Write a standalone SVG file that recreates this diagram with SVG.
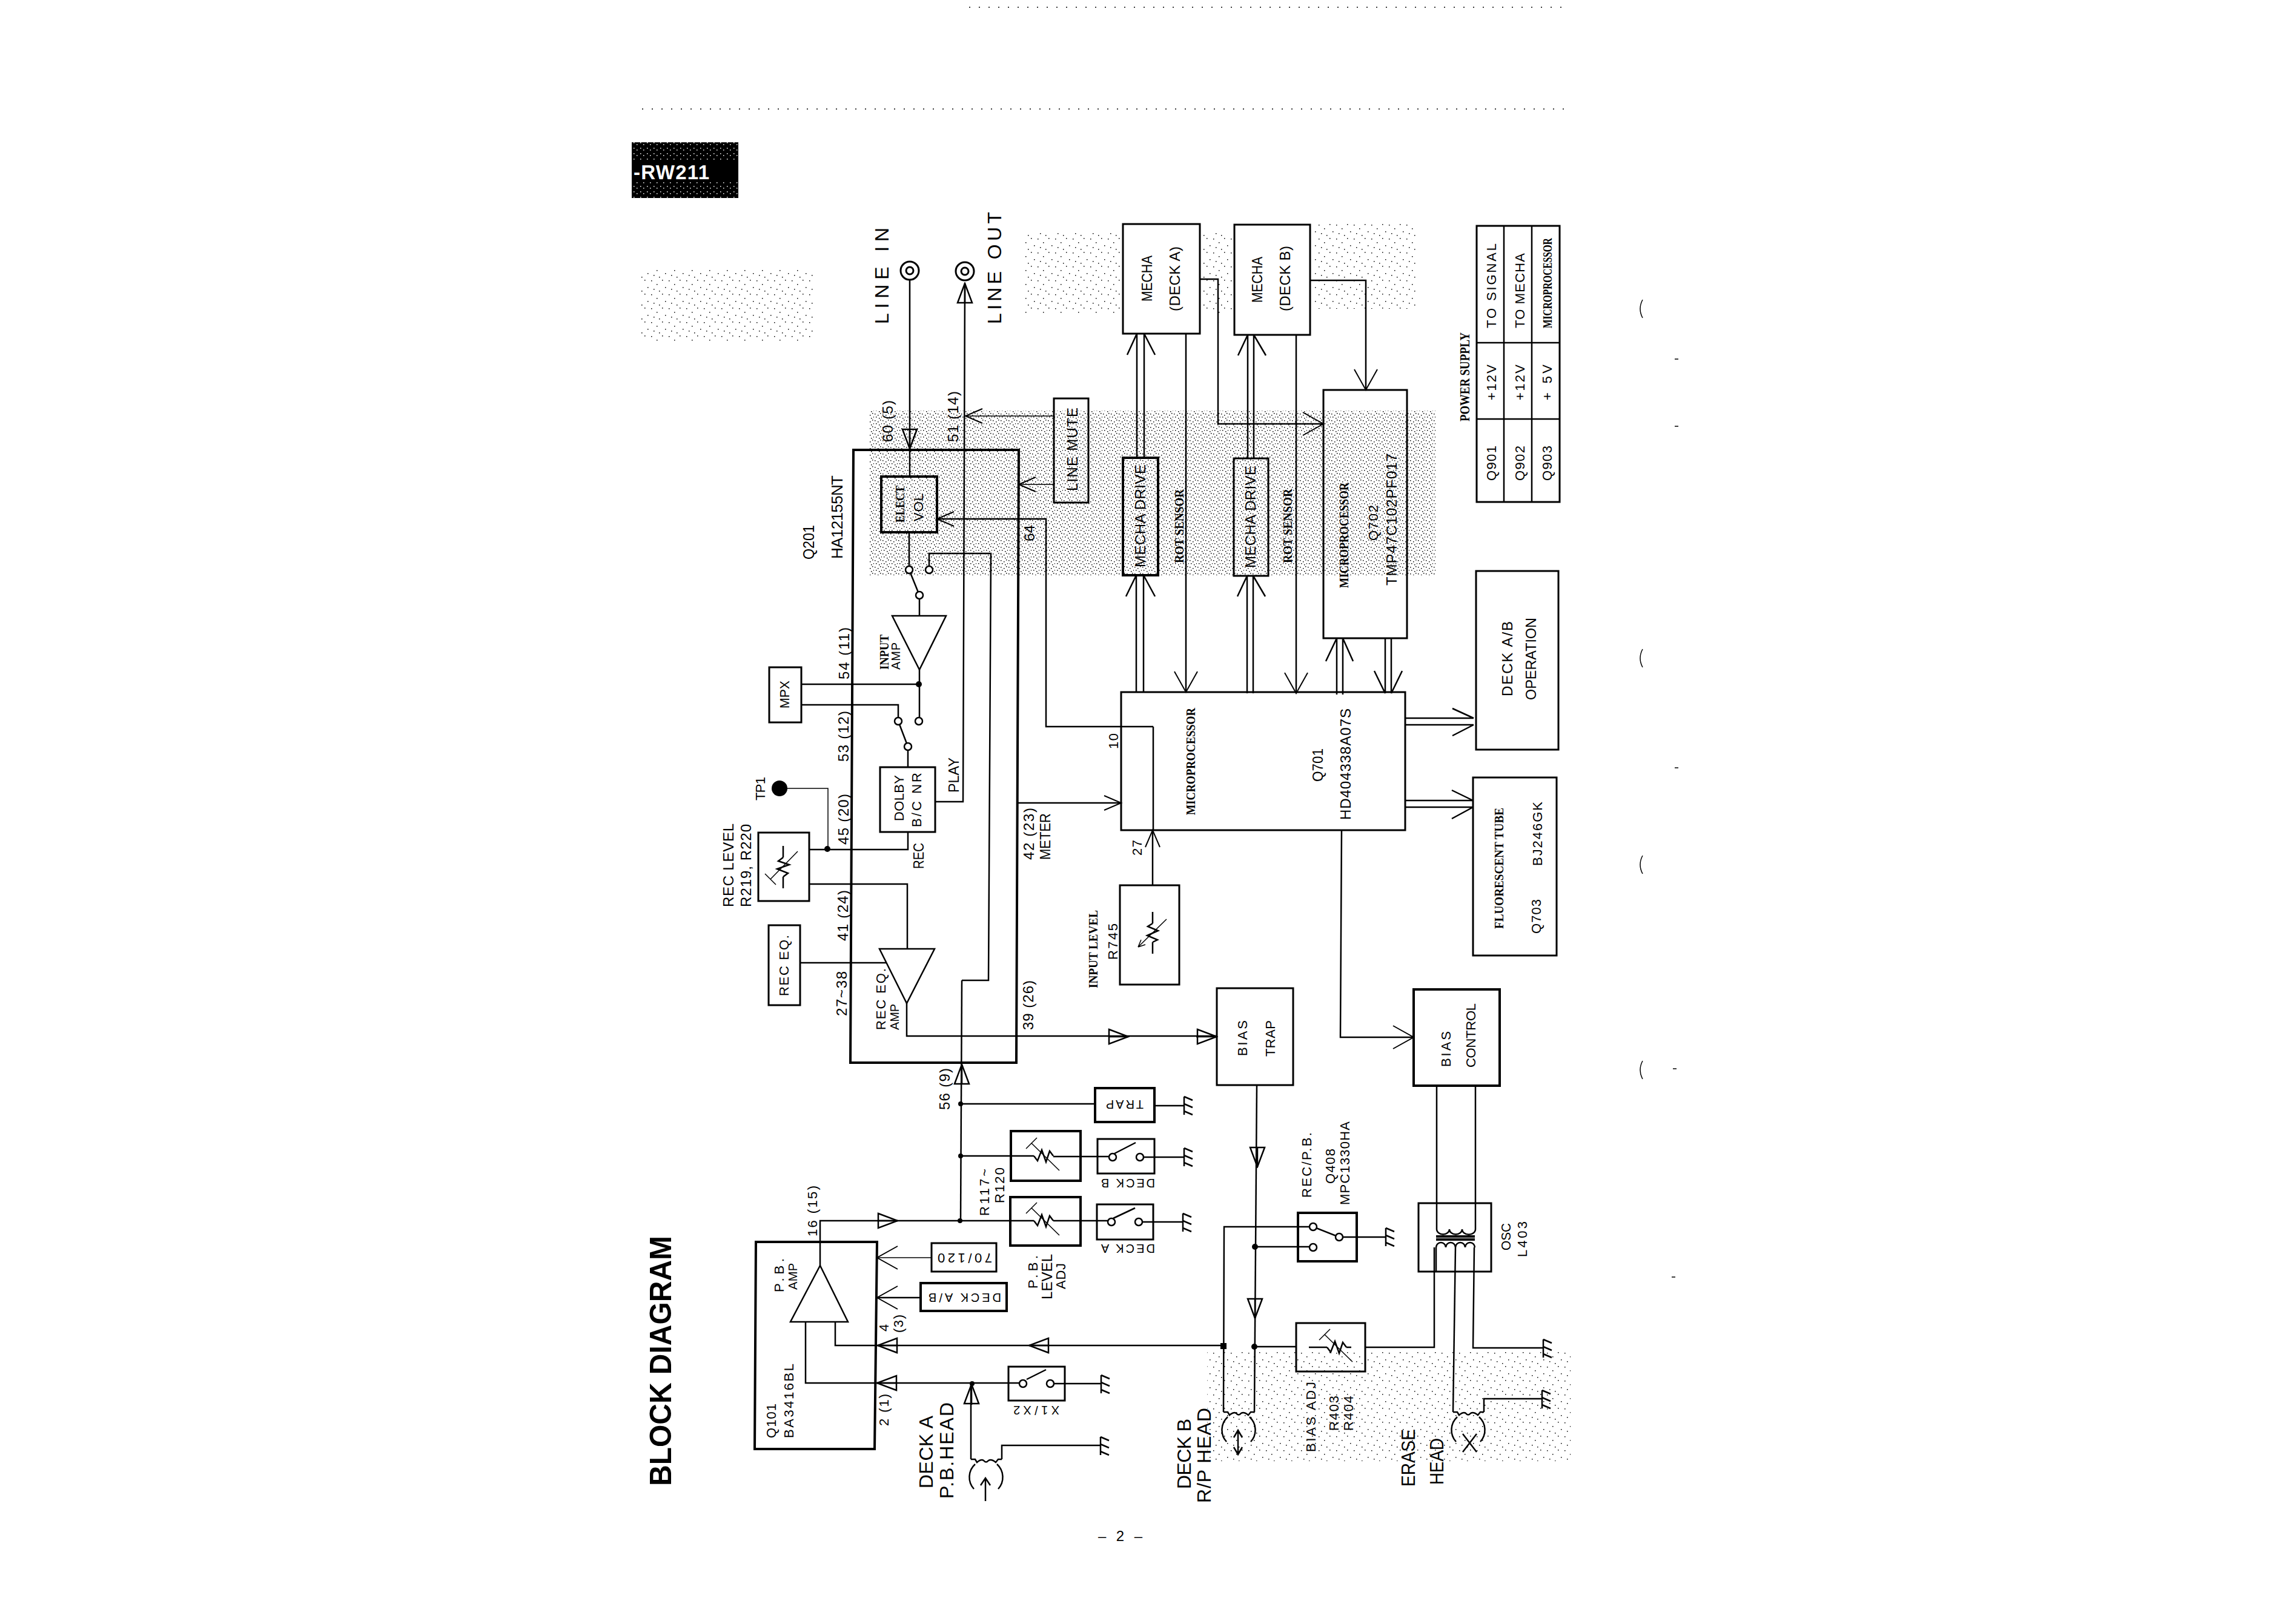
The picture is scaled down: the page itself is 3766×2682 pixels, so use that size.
<svg xmlns="http://www.w3.org/2000/svg" width="3766" height="2682" viewBox="0 0 3766 2682">
<style>
text{font-family:"Liberation Sans",Arial,sans-serif;fill:#000}
.w{fill:#fff;font-weight:bold}
.sb{font-family:"Liberation Serif","Times New Roman",serif;font-weight:bold}
.hb{font-weight:bold}
.s20{font-size:20px}.s22{font-size:22px}.s24{font-size:24px}.s26{font-size:26px}.s32{font-size:32px}
.b{fill:none;stroke:#000;stroke-width:3}
.bt{fill:none;stroke:#000;stroke-width:4}
.l{fill:none;stroke:#000;stroke-width:2.5}
.lt{fill:none;stroke:#000;stroke-width:1.5}
.c{fill:#fff;stroke:#000;stroke-width:2.5}
.d{fill:#000;stroke:none}
.m{fill:none;stroke:#000;stroke-width:1.5}
</style>
<defs>
<pattern id="dense" width="13" height="11" patternUnits="userSpaceOnUse"><path d="M1,1h1.5v1.5h-1.5zM6,3h1.5v1.5h-1.5zM10,0h1.5v1.5h-1.5zM3,6h1.5v1.5h-1.5zM8,8h1.5v1.5h-1.5zM12,6h1v1.5h-1z"/></pattern>
<pattern id="sparse" width="29" height="23" patternUnits="userSpaceOnUse"><path d="M2,3h1.5v1.5h-1.5zM11,9h1.5v1.5h-1.5zM20,2h1.5v1.5h-1.5zM25,14h1.5v1.5h-1.5zM6,17h1.5v1.5h-1.5zM15,20h1.5v1.5h-1.5z"/></pattern>
<pattern id="white" width="11" height="9" patternUnits="userSpaceOnUse"><path fill="#fff" d="M1,1h1.5v1.5h-1.5zM6,4h1.5v1.5h-1.5z"/></pattern>
<marker id="oa" markerUnits="userSpaceOnUse" markerWidth="40" markerHeight="44" refX="37" refY="22" orient="auto"><path d="M3,3L37,22L3,41" fill="none" stroke="#000" stroke-width="2"/></marker>
<marker id="ob" markerUnits="userSpaceOnUse" markerWidth="34" markerHeight="30" refX="31" refY="15" orient="auto"><path d="M3,3L31,15L3,27" fill="none" stroke="#000" stroke-width="2"/></marker>
<marker id="tri" markerUnits="userSpaceOnUse" markerWidth="36" markerHeight="30" refX="34" refY="15" orient="auto"><path d="M2,3L34,15L2,27Z" fill="none" stroke="#000" stroke-width="2.5"/></marker>
<g id="gnd"><path class="l" d="M0,-15V15M0,-15L14,-9M0,-3L14,3M0,9L14,15"/></g>
<g id="pot"><path class="l" d="M-16,0L-10,8L-3,-10L4,10L10,-8L16,0"/><path class="lt" d="M-20,-21L26,24M-29,-12L-11,-30" stroke-width="2"/></g>
<g id="head"><path class="l" d="M-25,0H-18L-15,5Q-8,-1-4,2Q0,7 4,2Q9,-1 16,5L20,0H26M-18,8A29,29 0 0 0-20,49M18,8A29,29 0 0 1 20,49"/></g>
</defs>

<g id="scan-stipple">
<rect x="1435" y="678" width="935" height="272" fill="url(#dense)"/>
<rect x="1690" y="385" width="160" height="135" fill="url(#sparse)"/>
<rect x="1985" y="385" width="50" height="135" fill="url(#sparse)"/>
<rect x="2170" y="370" width="170" height="140" fill="url(#sparse)"/>
<rect x="1057" y="444" width="288" height="120" fill="url(#sparse)"/>
<rect x="1993" y="2230" width="600" height="183" fill="url(#sparse)"/>
</g>
<g id="scan-marks">
<path class="m" stroke-dasharray="2 14" d="M1060,180H2590M1600,12H2590"/>
<path class="m" d="M2712,495Q2704,510 2712,525M2712,1072Q2704,1087 2712,1102M2712,1413Q2704,1428 2712,1443M2712,1752Q2704,1767 2712,1782"/>
<path class="m" d="M2765,593h6M2765,704h6M2765,1268h6M2762,1765h6M2760,2109h6"/>
</g>

<g id="connectors">
<path class="l" d="M1502,463V787"/><path class="l" d="M1502,709V741" marker-end="url(#tri)"/>
<path class="l" d="M1544,1324H1590L1593,470"/><path class="l" d="M1593,500V468" marker-end="url(#tri)"/>
<path class="lt" d="M1740,687H1594" marker-end="url(#ob)"/>
<path class="lt" d="M1739,800H1682" marker-end="url(#ob)"/>
<path class="l" d="M1904,1200H1727V857H1547" marker-end="url(#ob)"/>
<path class="l" d="M1904,1200V1372"/>
<path class="l" d="M1903,1462V1371" marker-end="url(#ob)"/>
<path class="l" d="M1501,879V936"/>
<path class="l" d="M1534,936V914H1636L1632,1619H1588"/>
<path class="l" d="M1501,941L1518,983"/>
<path class="l" d="M1518,988V1017M1518,1106V1186M1323,1130H1517"/>
<path class="l" d="M1323,1164H1483V1186M1483,1191L1499,1233M1499,1238V1267"/>
<path class="lt" d="M1287,1302H1367V1402"/>
<path class="l" d="M1336,1403H1499V1375"/>
<path class="l" d="M1336,1460H1498V1567"/>
<path class="l" d="M1321,1590H1464"/>
<path class="l" d="M1497,1657V1711H2009"/>
<path class="l" d="M1831,1712H1863" marker-end="url(#tri)"/>
<path class="l" d="M1975,1712H2009" marker-end="url(#tri)"/>
<path class="l" d="M1680,1326H1851" marker-end="url(#ob)"/>
<path class="l" d="M1877,551V756M1889,551V756M1877,551L1861,586M1889,551L1907,586"/>
<path class="l" d="M1876,950V1143M1888,950V1143M1876,950L1859,985M1888,950L1907,985"/>
<path class="l" d="M2060,553V757M2070,553V757M2060,553L2044,587M2070,553L2090,587"/>
<path class="l" d="M2059,951V1145M2069,951V1145M2059,951L2043,985M2069,951L2089,985"/>
<path class="l" d="M1958,551V1143" marker-end="url(#oa)"/>
<path class="l" d="M2140,553V1145" marker-end="url(#oa)"/>
<path class="l" d="M1981,461H2011V700H2185" marker-end="url(#oa)"/>
<path class="l" d="M2163,463H2255V644" marker-end="url(#oa)"/>
<path class="l" d="M2207,1147V1054M2217,1147V1054M2207,1054L2189,1092M2217,1054L2234,1092"/>
<path class="l" d="M2287,1054V1145M2297,1054V1145M2287,1145L2269,1108M2297,1145L2315,1108"/>
<path class="l" d="M2320,1186H2433M2320,1197H2433M2433,1186L2398,1170M2433,1197L2398,1215"/>
<path class="l" d="M2320,1322H2432M2320,1333H2432M2432,1322L2397,1305M2432,1333L2397,1352"/>
<path class="l" d="M2215,1371L2213,1713H2334" marker-end="url(#oa)"/>
<path class="l" d="M2075,1792L2071,2332"/>
<path class="l" d="M2076,1895V1927" marker-end="url(#tri)"/>
<path class="l" d="M2072,2145V2177" marker-end="url(#tri)"/>
<path class="l" d="M2163,2026H2021L2020,2332"/>
<path class="l" d="M2072,2059H2162"/>
<path class="l" d="M2211,2043H2288"/>
<path class="l" d="M2372,1793V2030M2436,1793V2030"/>
<path class="l" d="M2071,2224H2140M2254,2225H2368V2100M2371,2060V2100"/>
<path class="l" d="M2368,2100V2060"/>
<path class="l" d="M2403,2060L2399,2332"/>
<path class="l" d="M2434,2060L2432,2226H2548"/>
<path class="l" d="M2450,2332V2310H2546"/>
<path class="l" d="M1354,2090V2016H1668"/>
<path class="l" d="M1449,2016H1482" marker-end="url(#tri)"/>
<path class="l" d="M1668,2016H1707M1739,2016H1829"/>
<path class="l" d="M1586,1909H1707M1739,1910H1831"/>
<path class="l" d="M1586,2016L1588,1619"/>
<path class="l" d="M1588,1790V1758" marker-end="url(#tri)"/>
<path class="l" d="M1586,1823H1808"/>
<path class="l" d="M1906,1826H1955M1887,1911H1955M1885,2018H1953"/>
<path class="lt" d="M1538,2077H1448" marker-end="url(#oa)"/>
<path class="l" d="M1520,2143H1448" marker-end="url(#oa)"/>
<path class="l" d="M1379,2183V2222H2020"/>
<path class="l" d="M1481,2222H1449" marker-end="url(#tri)"/>
<path class="l" d="M1731,2222H1699" marker-end="url(#tri)"/>
<path class="l" d="M1330,2183V2284H1683M1740,2285H1818"/>
<path class="l" d="M1481,2284H1448" marker-end="url(#tri)"/>
<path class="l" d="M1603,2410V2285"/>
<path class="l" d="M1604,2320V2286" marker-end="url(#tri)"/>
<path class="l" d="M1654,2410V2387H1817"/>
<rect class="d" x="2015" y="2218" width="10" height="10"/>
<circle class="d" cx="1517" cy="1130" r="5"/>
<circle class="d" cx="1366" cy="1402" r="5"/>
<circle class="d" cx="1586" cy="1823" r="4"/>
<circle class="d" cx="1586" cy="1909" r="4"/>
<circle class="d" cx="1585" cy="2016" r="4"/>
<circle class="d" cx="1605" cy="2285" r="4"/>
<circle class="d" cx="2072" cy="2059" r="5"/>
<circle class="d" cx="2071" cy="2224" r="5"/>
</g>

<g id="badge"><rect x="1043" y="235" width="176" height="92"/><rect x="1043" y="235" width="176" height="30" fill="url(#white)"/><rect x="1043" y="300" width="176" height="27" fill="url(#white)"/><text class="w" x="1046" y="296" font-size="33" textLength="125">-RW211</text></g>
<g id="title"><text class="hb" font-size="50" transform="translate(1108,2454) rotate(-90)" textLength="413" lengthAdjust="spacingAndGlyphs">BLOCK DIAGRAM</text></g>
<g id="page-number"><text class="s24" x="1813" y="2545" textLength="73">– 2 –</text></g>

<g id="line-in"><circle class="b" cx="1502" cy="447" r="15"/><circle class="b" cx="1502" cy="447" r="6"/><text class="s32" transform="translate(1467,535) rotate(-90)" textLength="159">LINE IN</text></g>
<g id="line-out"><circle class="b" cx="1593" cy="448" r="15"/><circle class="b" cx="1593" cy="448" r="6"/><text class="s32" transform="translate(1653,535) rotate(-90)" textLength="185">LINE OUT</text></g>

<g id="q201"><path class="bt" d="M1409,743H1682L1678,1755H1404Z"/>
<text class="s26" transform="translate(1344,924) rotate(-90)" textLength="57" lengthAdjust="spacingAndGlyphs">Q201</text>
<text class="s26" transform="translate(1391,923) rotate(-90)" textLength="138">HA12155NT</text>
<text class="s24" transform="translate(1474,730) rotate(-90)" textLength="69">60 (5)</text>
<text class="s24" transform="translate(1582,730) rotate(-90)" textLength="84">51 (14)</text>
<text class="s24" transform="translate(1402,1122) rotate(-90)" textLength="86">54 (11)</text>
<text class="s24" transform="translate(1401,1258) rotate(-90)" textLength="84">53 (12)</text>
<text class="s24" transform="translate(1401,1395) rotate(-90)" textLength="84">45 (20)</text>
<text class="s24" transform="translate(1400,1554) rotate(-90)" textLength="84">41 (24)</text>
<text class="s24" transform="translate(1398,1678) rotate(-90)" textLength="74">27~38</text>
<text class="s24" transform="translate(1568,1833) rotate(-90)" textLength="69">56 (9)</text>
<text class="s24" transform="translate(1706,1701) rotate(-90)" textLength="82">39 (26)</text>
<text class="s24" transform="translate(1707,1420) rotate(-90)" textLength="86">42 (23)</text>
<text class="s24" transform="translate(1734,1420) rotate(-90)" textLength="77" lengthAdjust="spacingAndGlyphs">METER</text>
<text class="s24" transform="translate(1708,894) rotate(-90)" textLength="27">64</text>
<text class="s24" transform="translate(1583,1309) rotate(-90)" textLength="58" lengthAdjust="spacingAndGlyphs">PLAY</text>
<text class="s24" transform="translate(1525,1435) rotate(-90)" textLength="43" lengthAdjust="spacingAndGlyphs">REC</text>
</g>
<g id="elect-vol"><rect class="bt" x="1455" y="787" width="92" height="92"/><text class="sb s22" transform="translate(1493,863) rotate(-90)" textLength="61" lengthAdjust="spacingAndGlyphs">ELECT</text><text class="s22" transform="translate(1524,861) rotate(-90)" textLength="46">VOL</text></g>
<g id="input-switch"><circle class="c" cx="1501" cy="941" r="6"/><circle class="c" cx="1534" cy="941" r="6"/><circle class="c" cx="1518" cy="983" r="6"/></g>
<g id="input-amp"><path class="l" d="M1473,1017H1562L1518,1106Z"/><text class="sb s20" transform="translate(1467,1106) rotate(-90)" textLength="58" lengthAdjust="spacingAndGlyphs">INPUT</text><text class="s20" transform="translate(1486,1106) rotate(-90)" textLength="45">AMP</text></g>
<g id="dolby-switch"><circle class="c" cx="1517" cy="1191" r="6"/><circle class="c" cx="1483" cy="1191" r="6"/><circle class="c" cx="1499" cy="1233" r="6"/></g>
<g id="dolby"><rect class="b" x="1453" y="1267" width="91" height="107"/><text class="s22" transform="translate(1492,1356) rotate(-90)" textLength="76">DOLBY</text><text class="s22" transform="translate(1521,1366) rotate(-90)" textLength="90">B/C NR</text></g>
<g id="rec-eq-amp"><path class="l" d="M1452,1567H1543L1497,1657Z"/><text class="s22" transform="translate(1462,1701) rotate(-90)" textLength="102">REC EQ.</text><text class="s20" transform="translate(1484,1701) rotate(-90)" textLength="43">AMP</text></g>

<g id="mpx"><rect class="b" x="1270" y="1102" width="53" height="91"/><text class="s22" transform="translate(1303,1170) rotate(-90)" textLength="46" lengthAdjust="spacingAndGlyphs">MPX</text></g>
<g id="tp1"><circle class="d" cx="1287" cy="1302" r="13"/><text class="s22" transform="translate(1263,1322) rotate(-90)" textLength="39">TP1</text></g>
<g id="rec-level"><rect class="b" x="1252" y="1375" width="84" height="113"/><path class="l" d="M1293,1397V1416M1293,1448V1467"/><use href="#pot" transform="translate(1293,1432) rotate(-90)"/><text class="s24" transform="translate(1211,1498) rotate(-90)" textLength="138">REC LEVEL</text><text class="s24" transform="translate(1240,1498) rotate(-90)" textLength="137">R219, R220</text></g>
<g id="rec-eq"><rect class="b" x="1269" y="1528" width="52" height="132"/><text class="s22" transform="translate(1302,1645) rotate(-90)" textLength="101">REC EQ.</text></g>

<g id="line-mute"><rect class="b" x="1740" y="658" width="57" height="172"/><text class="s24" transform="translate(1779,811) rotate(-90)" textLength="138">LINE MUTE</text></g>
<g id="mecha-a"><rect class="b" x="1854" y="370" width="127" height="181"/><text class="s24" transform="translate(1902,498) rotate(-90)" textLength="76" lengthAdjust="spacingAndGlyphs">MECHA</text><text class="s24" transform="translate(1948,514) rotate(-90)" textLength="107">(DECK A)</text></g>
<g id="mecha-b"><rect class="b" x="2038" y="371" width="125" height="182"/><text class="s24" transform="translate(2084,500) rotate(-90)" textLength="76" lengthAdjust="spacingAndGlyphs">MECHA</text><text class="s24" transform="translate(2130,514) rotate(-90)" textLength="108">(DECK B)</text></g>
<g id="mecha-drive-a"><rect class="bt" x="1854" y="756" width="58" height="194"/><text class="s24" transform="translate(1891,937) rotate(-90)" textLength="170">MECHA DRIVE</text><text class="sb s22" transform="translate(1954,930) rotate(-90)" textLength="122" lengthAdjust="spacingAndGlyphs">ROT SENSOR</text></g>
<g id="mecha-drive-b"><rect class="b" x="2037" y="757" width="57" height="194"/><text class="s24" transform="translate(2073,938) rotate(-90)" textLength="169">MECHA DRIVE</text><text class="sb s22" transform="translate(2133,930) rotate(-90)" textLength="123" lengthAdjust="spacingAndGlyphs">ROT SENSOR</text></g>
<g id="q702"><rect class="b" x="2185" y="644" width="138" height="410"/><text class="sb s22" transform="translate(2226,971) rotate(-90)" textLength="174" lengthAdjust="spacingAndGlyphs">MICROPROCESSOR</text><text class="s22" transform="translate(2275,893) rotate(-90)" textLength="59">Q702</text><text class="s24" transform="translate(2306,967) rotate(-90)" textLength="218">TMP47C102PF017</text></g>
<g id="q701"><rect class="b" x="1851" y="1143" width="469" height="228"/><text class="sb s22" transform="translate(1973,1346) rotate(-90)" textLength="177" lengthAdjust="spacingAndGlyphs">MICROPROCESSOR</text><text class="s24" transform="translate(2184,1291) rotate(-90)" textLength="55" lengthAdjust="spacingAndGlyphs">Q701</text><text class="s24" transform="translate(2230,1354) rotate(-90)" textLength="184">HD404338A07S</text><text class="s22" transform="translate(1846,1237) rotate(-90)" textLength="26">10</text><text class="s22" transform="translate(1885,1413) rotate(-90)" textLength="26">27</text></g>
<g id="r745"><rect class="b" x="1849" y="1462" width="98" height="164"/><path class="l" d="M1903,1506V1525M1903,1556V1575M1903,1525L1895,1530L1912,1537L1894,1545L1911,1552L1903,1556"/><path class="lt" d="M1926,1518L1879,1564M1879,1564L1884,1552M1879,1564L1891,1560"/><text class="sb s22" transform="translate(1812,1632) rotate(-90)" textLength="129" lengthAdjust="spacingAndGlyphs">INPUT LEVEL</text><text class="s22" transform="translate(1845,1585) rotate(-90)" textLength="60">R745</text></g>
<g id="deck-ab-operation"><rect class="b" x="2437" y="943" width="136" height="295"/><text class="s24" transform="translate(2497,1150) rotate(-90)" textLength="124">DECK A/B</text><text class="s24" transform="translate(2536,1156) rotate(-90)" textLength="136" lengthAdjust="spacingAndGlyphs">OPERATION</text></g>
<g id="fluorescent-tube"><rect class="b" x="2432" y="1284" width="138" height="294"/><text class="sb s22" transform="translate(2482,1534) rotate(-90)" textLength="200" lengthAdjust="spacingAndGlyphs">FLUORESCENT TUBE</text><text class="s22" transform="translate(2546,1430) rotate(-90)" textLength="106">BJ246GK</text><text class="s22" transform="translate(2544,1542) rotate(-90)" textLength="57">Q703</text></g>

<g id="power-supply"><rect class="b" x="2438" y="373" width="137" height="456"/><path class="l" d="M2483,373V829M2529,373V829M2438,566H2575M2438,692H2575"/>
<text class="sb s24" transform="translate(2426,696) rotate(-90)" textLength="147" lengthAdjust="spacingAndGlyphs">POWER SUPPLY</text>
<text class="s22" transform="translate(2470,542) rotate(-90)" textLength="140">TO SIGNAL</text>
<text class="s22" transform="translate(2517,542) rotate(-90)" textLength="124">TO MECHA</text>
<text class="sb s20" transform="translate(2562,542) rotate(-90)" textLength="149" lengthAdjust="spacingAndGlyphs">MICROPROCESSOR</text>
<text class="s22" transform="translate(2470,661) rotate(-90)" textLength="59">+12V</text>
<text class="s22" transform="translate(2517,661) rotate(-90)" textLength="59">+12V</text>
<text class="s22" transform="translate(2562,661) rotate(-90)" textLength="59">+ 5V</text>
<text class="s22" transform="translate(2470,794) rotate(-90)" textLength="58">Q901</text>
<text class="s22" transform="translate(2517,794) rotate(-90)" textLength="58">Q902</text>
<text class="s22" transform="translate(2562,794) rotate(-90)" textLength="58">Q903</text></g>

<g id="bias-trap"><rect class="b" x="2009" y="1632" width="126" height="160"/><text class="s22" transform="translate(2059,1744) rotate(-90)" textLength="59">BIAS</text><text class="s22" transform="translate(2105,1745) rotate(-90)" textLength="60">TRAP</text></g>
<g id="bias-control"><rect class="bt" x="2334" y="1634" width="142" height="159"/><text class="s22" transform="translate(2395,1762) rotate(-90)" textLength="59">BIAS</text><text class="s22" transform="translate(2436,1763) rotate(-90)" textLength="106">CONTROL</text></g>
<g id="trap"><rect class="bt" x="1808" y="1797" width="98" height="56"/><text class="s20" transform="translate(1888,1817) rotate(180)" textLength="62">TRAP</text><use href="#gnd" x="1955" y="1826"/></g>
<g id="deck-b-switch"><rect class="b" x="1812" y="1881" width="94" height="57"/><circle class="c" cx="1837" cy="1911" r="6"/><circle class="c" cx="1882" cy="1911" r="6"/><path class="l" d="M1840,1905L1875,1887"/><text class="s20" transform="translate(1907,1947) rotate(180)" textLength="89">DECK B</text><use href="#gnd" x="1955" y="1911"/></g>
<g id="deck-a-switch"><rect class="b" x="1811" y="1989" width="93" height="58"/><circle class="c" cx="1835" cy="2018" r="6"/><circle class="c" cx="1880" cy="2018" r="6"/><path class="l" d="M1838,2012L1874,1995"/><text class="s20" transform="translate(1907,2055) rotate(180)" textLength="89">DECK A</text><use href="#gnd" x="1953" y="2019"/></g>
<g id="r117-r120"><rect class="bt" x="1669" y="1868" width="115" height="82"/><use href="#pot" transform="translate(1723,1909)"/><rect class="bt" x="1668" y="1977" width="116" height="80"/><use href="#pot" transform="translate(1723,2016)"/>
<text class="s22" transform="translate(1633,2008) rotate(-90)" textLength="78">R117~</text><text class="s22" transform="translate(1658,1987) rotate(-90)" textLength="59">R120</text>
<text class="s22" transform="translate(1713,2128) rotate(-90)" textLength="55">P.B.</text><text class="s24" transform="translate(1737,2146) rotate(-90)" textLength="75">LEVEL</text><text class="s22" transform="translate(1759,2129) rotate(-90)" textLength="43">ADJ</text></g>

<g id="q408"><rect class="bt" x="2143" y="2003" width="97" height="80"/><path class="l" d="M2168,2026L2211,2043"/><circle class="c" cx="2168" cy="2026" r="6"/><circle class="c" cx="2168" cy="2060" r="6"/><circle class="c" cx="2211" cy="2043" r="6"/><use href="#gnd" x="2288" y="2043"/>
<text class="s22" transform="translate(2165,1978) rotate(-90)" textLength="108">REC/P.B.</text><text class="s22" transform="translate(2204,1955) rotate(-90)" textLength="58">Q408</text><text class="s22" transform="translate(2228,1990) rotate(-90)" textLength="138">MPC1330HA</text></g>
<g id="osc"><rect class="b" x="2342" y="1987" width="120" height="113"/><path class="l" d="M2372,2030A10,8 0 0 0 2393,2030A10,8 0 0 0 2414,2030A10,8 0 0 0 2436,2030"/><path class="bt" d="M2371,2042H2435M2371,2047H2435"/><path class="l" d="M2371,2060A8,8 0 0 1 2387,2060A8,8 0 0 1 2403,2060A8,8 0 0 1 2419,2060A8,8 0 0 1 2435,2060"/><text class="s22" transform="translate(2494,2065) rotate(-90)" textLength="45" lengthAdjust="spacingAndGlyphs">OSC</text><text class="s22" transform="translate(2521,2076) rotate(-90)" textLength="59">L403</text></g>
<g id="bias-adj"><rect class="b" x="2140" y="2185" width="114" height="80"/><path class="l" d="M2161,2225H2191M2223,2225H2231"/><use href="#pot" transform="translate(2207,2225)"/>
<text class="s22" transform="translate(2172,2398) rotate(-90)" textLength="116">BIAS ADJ</text><text class="s22" transform="translate(2210,2363) rotate(-90)" textLength="58">R403</text><text class="s22" transform="translate(2234,2363) rotate(-90)" textLength="58">R404</text></g>
<g id="ground-erase"><use href="#gnd" x="2548" y="2227"/><use href="#gnd" x="2546" y="2311"/></g>

<g id="q101"><path class="bt" d="M1248,2051H1448L1444,2393H1246Z"/><path class="l" d="M1354,2090L1305,2183H1400Z"/>
<text class="s22" transform="translate(1294,2134) rotate(-90)" textLength="56">P.B.</text><text class="s20" transform="translate(1316,2130) rotate(-90)" textLength="44">AMP</text>
<text class="s22" transform="translate(1281,2375) rotate(-90)" textLength="57">Q101</text><text class="s22" transform="translate(1310,2375) rotate(-90)" textLength="123">BA3416BL</text>
<text class="s22" transform="translate(1349,2042) rotate(-90)" textLength="84">16 (15)</text>
<text class="s22" transform="translate(1467,2199) rotate(-90)" textLength="14">4</text><text class="s22" transform="translate(1491,2201) rotate(-90)" textLength="30">(3)</text>
<text class="s22" transform="translate(1467,2355) rotate(-90)" textLength="53">2 (1)</text></g>
<g id="s70-120"><rect class="b" x="1538" y="2053" width="107" height="47"/><text class="s22" transform="translate(1638,2070) rotate(180)" textLength="90">70/120</text></g>
<g id="deck-ab"><rect class="bt" x="1520" y="2119" width="142" height="46"/><text class="s20" transform="translate(1653,2136) rotate(180)" textLength="120">DECK A/B</text></g>
<g id="x1x2"><rect class="b" x="1665" y="2257" width="93" height="56"/><circle class="c" cx="1689" cy="2285" r="6"/><circle class="c" cx="1734" cy="2285" r="6"/><path class="l" d="M1695,2278L1727,2262"/><text class="s20" transform="translate(1749,2322) rotate(180)" textLength="76">X1/X2</text><use href="#gnd" x="1818" y="2286"/><use href="#gnd" x="1817" y="2388"/></g>

<g id="deck-a-head"><use href="#head" x="1628" y="2410"/><path class="l" d="M1627,2479V2441M1619,2453L1627,2441L1635,2453"/><text class="s32" transform="translate(1540,2458) rotate(-90)" textLength="120">DECK A</text><text class="s32" transform="translate(1574,2475) rotate(-90)" textLength="159">P.B.HEAD</text></g>
<g id="deck-b-head"><use href="#head" x="2045" y="2332"/><path class="l" d="M2044,2362V2402M2037,2374L2044,2362L2051,2374M2037,2390L2044,2402L2051,2390"/><text class="s32" transform="translate(1966,2459) rotate(-90)" textLength="116">DECK B</text><text class="s32" transform="translate(1999,2482) rotate(-90)" textLength="157">R/P HEAD</text></g>
<g id="erase-head"><use href="#head" x="2424" y="2332"/><path class="l" d="M2415,2368L2438,2398M2438,2368L2415,2398"/><text class="s32" transform="translate(2336,2455) rotate(-90)" textLength="95" lengthAdjust="spacingAndGlyphs">ERASE</text><text class="s32" transform="translate(2383,2452) rotate(-90)" textLength="77" lengthAdjust="spacingAndGlyphs">HEAD</text></g>
</svg>
